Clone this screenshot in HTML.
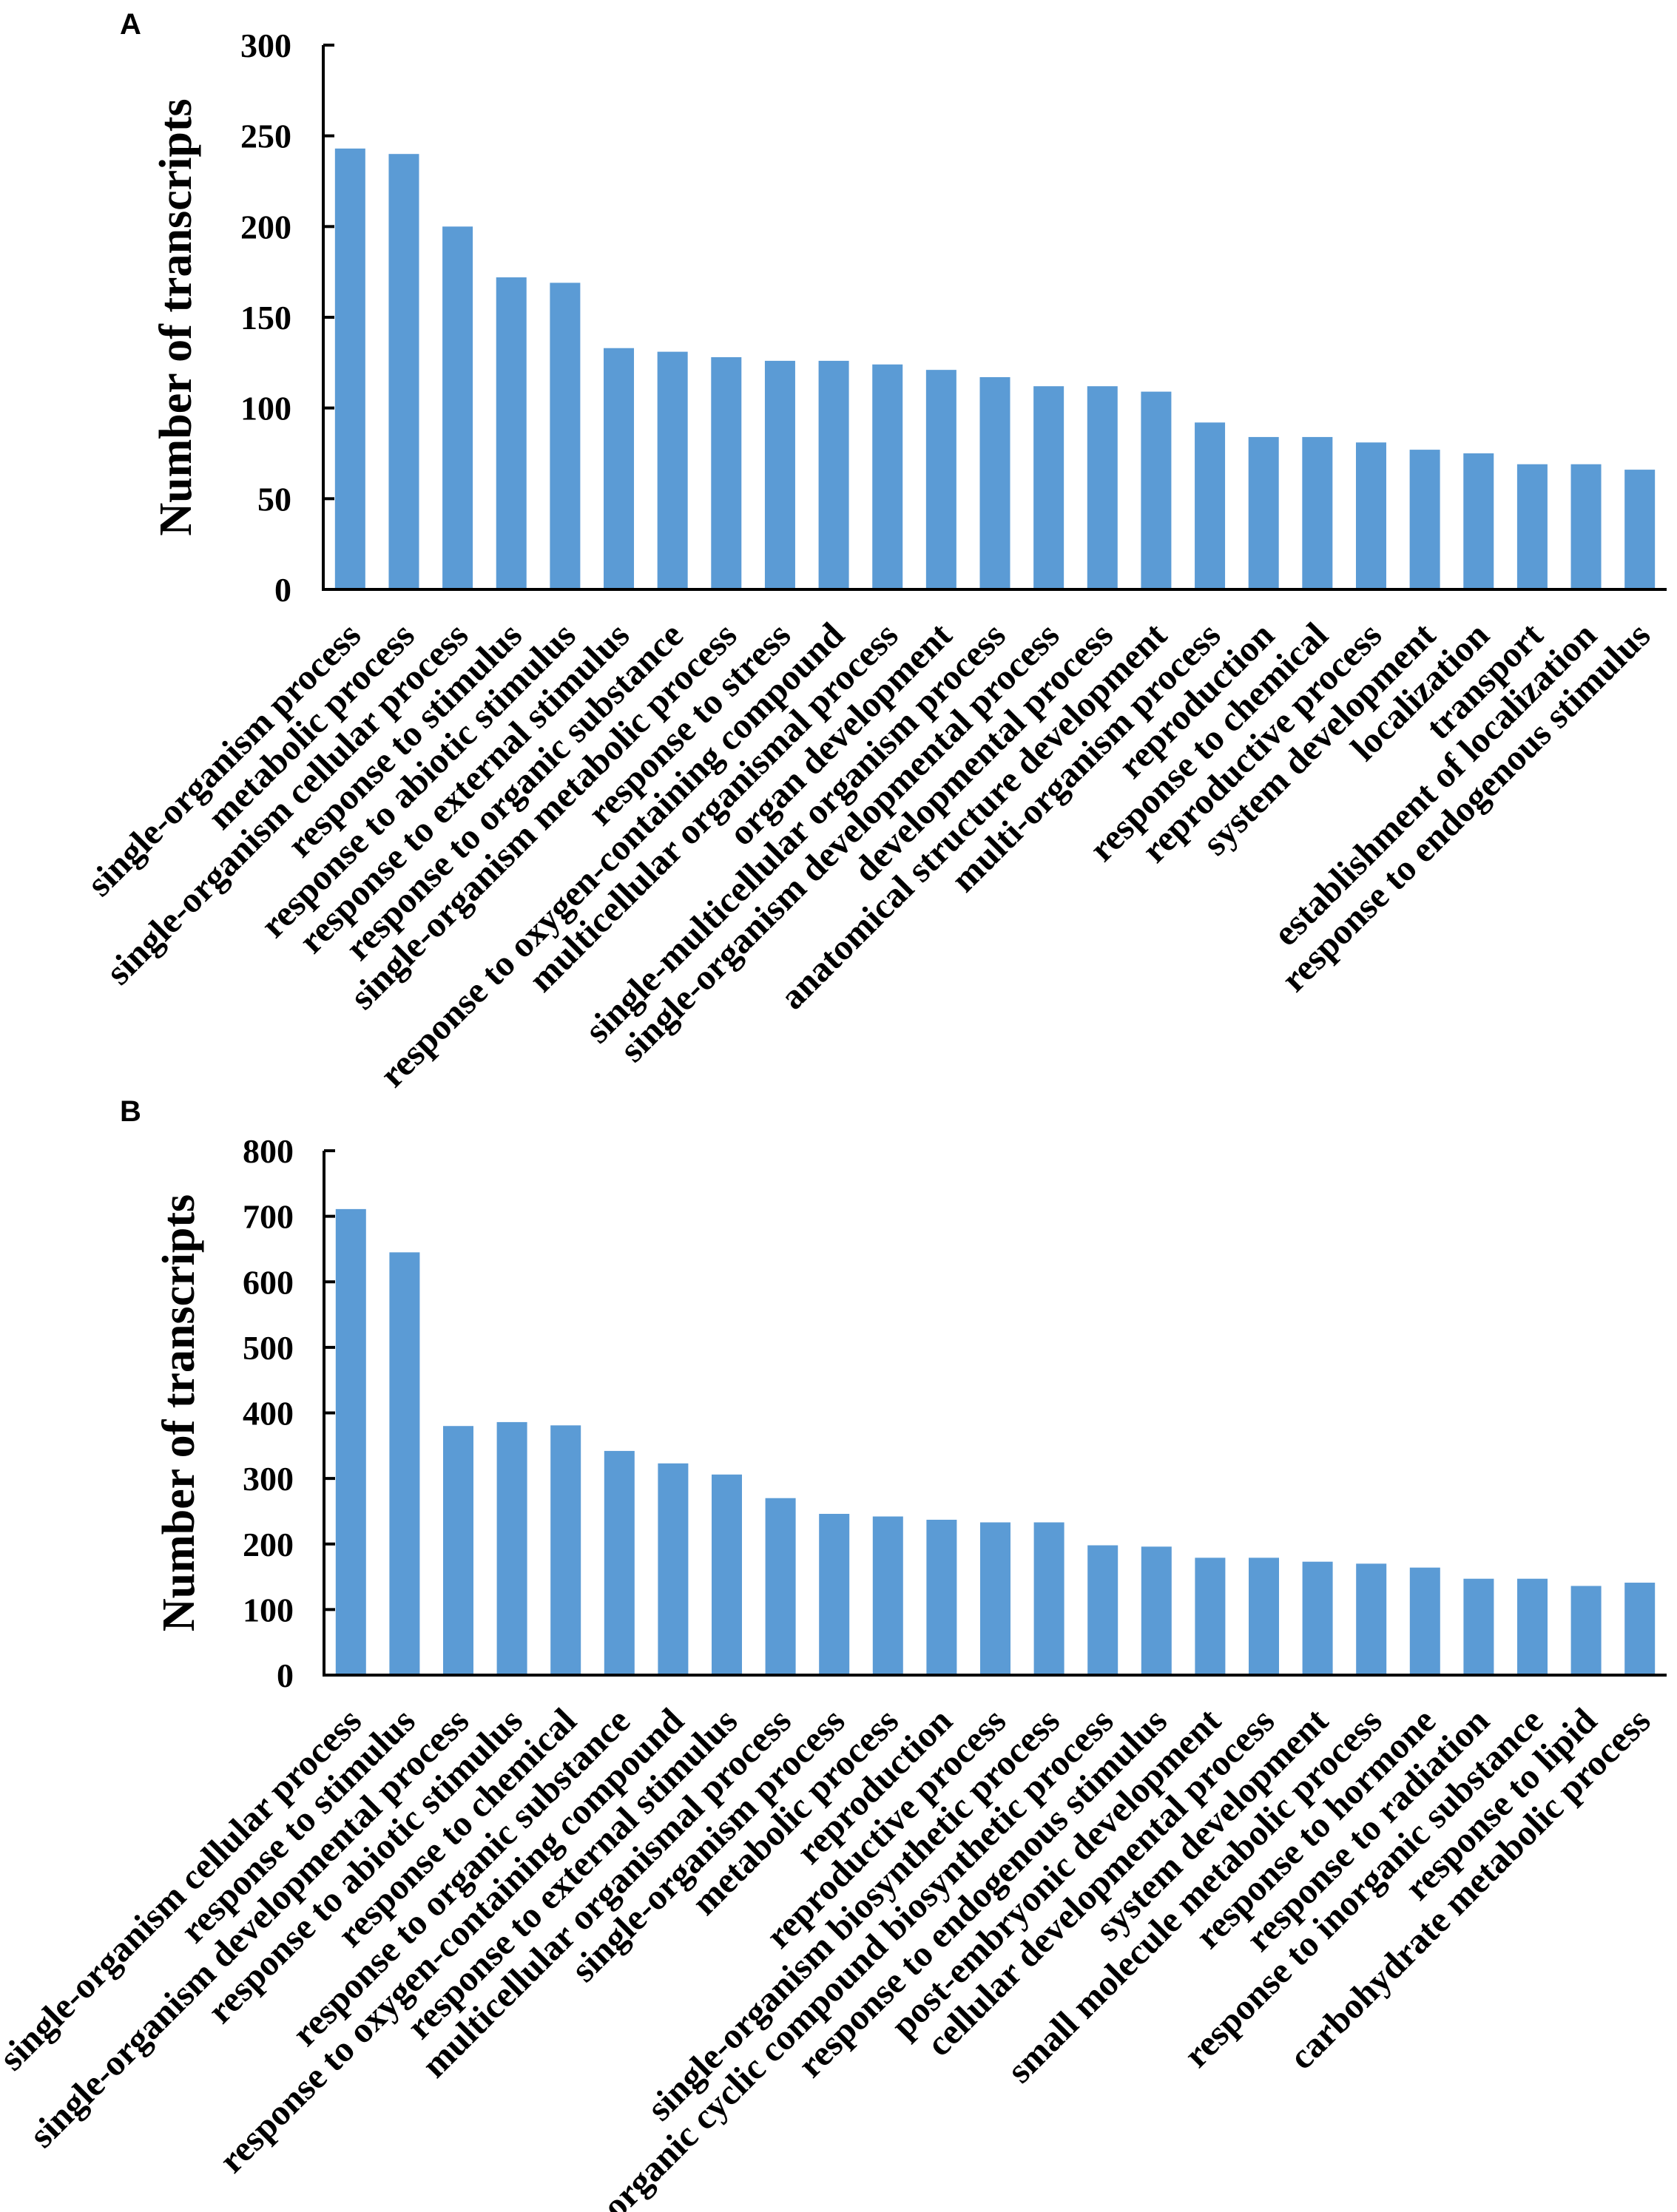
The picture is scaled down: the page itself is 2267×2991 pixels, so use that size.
<!DOCTYPE html>
<html><head><meta charset="utf-8"><style>
html,body{margin:0;padding:0;background:#fff;}
svg{display:block;}
text{font-family:"Liberation Serif","Times New Roman",serif;font-weight:bold;fill:#000;}
.pl{font-family:"Liberation Sans",Arial,sans-serif;}
</style></head><body>
<svg id="fig" width="2267" height="2991" viewBox="0 0 2267 2991" xmlns="http://www.w3.org/2000/svg">
<text class="pl" x="162" y="46" font-size="40">A</text>
<text class="pl" x="162" y="1516" font-size="40">B</text>
<g id="chartA"></g>
<g id="chartB"></g>
</svg>
<script>
const categoriesA = ["single-organism process","metabolic process","single-organism cellular process","response to stimulus","response to abiotic stimulus","response to external stimulus","response to organic substance","single-organism metabolic process","response to stress","response to oxygen-containing compound","multicellular organismal process","organ development","single-multicellular organism process","single-organism developmental process","developmental process","anatomical structure development","multi-organism process","reproduction","response to chemical","reproductive process","system development","localization","transport","establishment of localization","response to endogenous stimulus"];
const valuesA = [243,240,200,172,169,133,131,128,126,126,124,121,117,112,112,109,92,84,84,81,77,75,69,69,66];
const ticksA = [0,50,100,150,200,250,300];

const categoriesB = ["single-organism cellular process","response to stimulus","single-organism developmental process","response to abiotic stimulus","response to chemical","response to organic substance","response to oxygen-containing compound","response to external stimulus","multicellular organismal process","single-organism process","metabolic process","reproduction","reproductive process","single-organism biosynthetic process","organic cyclic compound biosynthetic process","response to endogenous stimulus","post-embryonic development","cellular developmental process","system development","small molecule metabolic process","response to hormone","response to radiation","response to inorganic substance","response to lipid","carbohydrate metabolic process"];
const valuesB = [711,645,380,386,381,342,323,306,270,246,242,237,233,233,198,196,179,179,173,170,164,147,147,136,141];
const ticksB = [0,100,200,300,400,500,600,700,800];

const NS = "http://www.w3.org/2000/svg";
function mk(tag, attrs, parent){
  const e = document.createElementNS(NS, tag);
  for (const k in attrs) e.setAttribute(k, attrs[k]);
  parent.appendChild(e);
  return e;
}
function drawChart(g, cats, vals, ticks, cfg){
  const x0 = cfg.x0, x1 = cfg.x1, yb = cfg.y0, yt = cfg.yTop, vmax = ticks[ticks.length-1];
  const yScale = v => yb - (v / vmax) * (yb - yt);
  const band = (x1 - x0) / cats.length;
  const xCenter = i => x0 + band * (i + 0.5);
  const bw = 41;
  vals.forEach((v, i) => {
    const r = mk('rect', {x: xCenter(i) - bw/2, y: yScale(v), width: bw, height: yb - yScale(v), fill: '#5B9BD5'}, g);
    
    
  });
  const ax = mk('path', {d: `M${x0},${yt} V${yb} H${x1}`, stroke: '#000', 'stroke-width': 4, fill: 'none'}, g);
  
  
  ticks.forEach(t => {
    const y = yScale(t);
    const tk = mk('line', {x1: x0, x2: x0 + 15, y1: y, y2: y, stroke: '#000', 'stroke-width': 4}, g);
    
    
    const tl = mk('text', {x: cfg.tickX, y: y + 16, 'font-size': 46, 'text-anchor': 'end'}, g);
    tl.textContent = t;
    
    
  });
  cats.forEach((c, i) => {
    const ax2 = xCenter(i) + 17, ay = yb + 65;
    const t = mk('text', {x: 0, y: 0, 'font-size': 49, 'text-anchor': 'end', transform: `translate(${ax2},${ay}) rotate(-45)`}, g);
    t.textContent = c;
    
    
  });
  const yt2 = mk('text', {x: 0, y: 0, 'font-size': 62, 'text-anchor': 'middle', transform: `translate(${cfg.titleX},${(yt+yb)/2}) rotate(-90)`}, g);
  yt2.textContent = 'Number of transcripts';
  
  
}
drawChart(document.getElementById('chartA'), categoriesA, valuesA, ticksA, {x0: 437, x1: 2253, y0: 797, yTop: 61, tickX: 394, titleX: 258});
drawChart(document.getElementById('chartB'), categoriesB, valuesB, ticksB, {x0: 438, x1: 2253, y0: 2265, yTop: 1556, tickX: 397, titleX: 262});
</script>
</body></html>
